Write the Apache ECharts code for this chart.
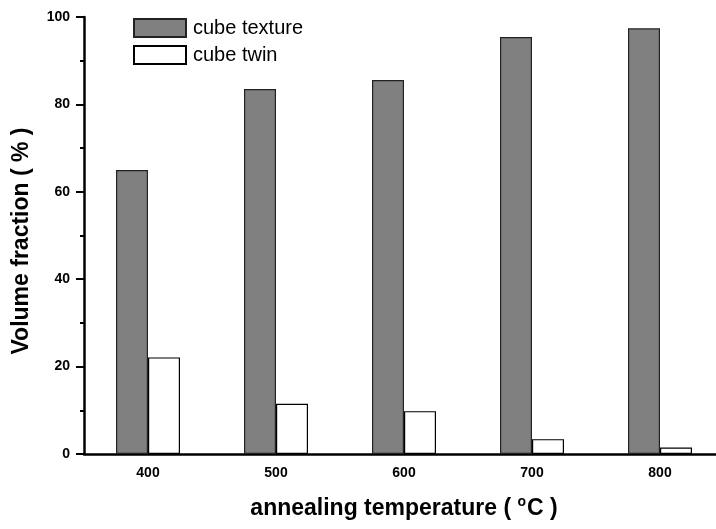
<!DOCTYPE html>
<html>
<head>
<meta charset="utf-8">
<script src="https://cdn.jsdelivr.net/npm/echarts@6/dist/echarts.min.js"></script>
<style>html,body{margin:0;padding:0;background:#fff}#c{width:716px;height:529px}</style>
</head>
<body>
<div id="c"></div>
<script>
var categories = ['400', '500', '600', '700', '800'];
var cubeTexture = [65.0, 83.5, 85.6, 95.4, 97.4];
var cubeTwin = [22.1, 11.5, 9.8, 3.4, 1.5];
var yTicks = [0, 20, 40, 60, 80, 100];
var xTitle = 'annealing temperature ( {sup|o}C )';
var yTitle = 'Volume fraction ( % )';

var chart = echarts.init(document.getElementById('c'), null, {renderer: 'canvas'});
var font = '"Liberation Sans", Arial, sans-serif';
chart.setOption({
  animation: false,
  backgroundColor: '#ffffff',
  textStyle: {fontFamily: font},
  grid: {left: 84, top: 17, height: 437, width: 640, containLabel: false, outerBoundsMode: 'none'},
  legend: {
    orient: 'vertical', left: 128, top: 13, itemWidth: 52, itemHeight: 18, itemGap: 7,
    textStyle: {fontFamily: font, fontSize: 20, lineHeight: 18, color: '#000', padding: [0, 0, 0, 2]},
    data: [{name: 'cube texture', icon: 'rect'}, {name: 'cube twin', icon: 'rect'}]
  },
  graphic: [
    {type: 'text', x: 404, y: 509,
     style: {text: xTitle, fontFamily: font, fontSize: 23, fontWeight: 'bold', fill: '#000',
       align: 'center', verticalAlign: 'middle',
       rich: {sup: {fontFamily: font, fontSize: 14, fontWeight: 'bold', fill: '#000', padding: [0, 1, 13, 0]}}}},
    {type: 'text', x: 22, y: 241, rotation: Math.PI / 2,
     style: {text: yTitle, fontFamily: font, fontSize: 23, fontWeight: 'bold', fill: '#000',
       align: 'center', verticalAlign: 'middle'}}
  ],
  xAxis: {
    type: 'category', data: categories, boundaryGap: true,
    axisLine: {lineStyle: {color: '#000', width: 2.5}},
    axisTick: {alignWithLabel: true, length: 7, lineStyle: {color: '#000', width: 2}},
    axisLabel: {fontFamily: font, fontSize: 14, fontWeight: 'bold', color: '#000', margin: 12},
    splitLine: {show: false}
  },
  yAxis: {
    type: 'value', min: yTicks[0], max: yTicks[yTicks.length - 1], interval: 20,
    axisLine: {show: true, lineStyle: {color: '#000', width: 2.5}},
    axisTick: {show: true, length: 8, lineStyle: {color: '#000', width: 2}},
    minorTick: {show: true, splitNumber: 2, length: 4, lineStyle: {color: '#000', width: 2}},
    axisLabel: {fontFamily: font, fontSize: 14, fontWeight: 'bold', color: '#000', margin: 14},
    splitLine: {show: false}
  },
  series: [
    {name: 'cube texture', type: 'bar', data: cubeTexture, barWidth: 32, barGap: '0%',
     itemStyle: {color: '#808080', borderColor: '#222', borderWidth: 1.2}},
    {name: 'cube twin', type: 'bar', data: cubeTwin, barWidth: 32, barGap: '0%',
     itemStyle: {color: '#ffffff', borderColor: '#000', borderWidth: 1.2}}
  ]
});
</script>
</body>
</html>
